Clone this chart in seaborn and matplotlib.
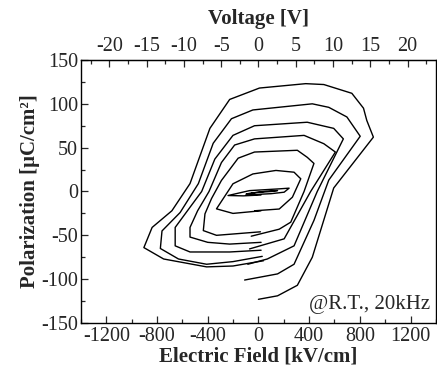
import numpy as np
import pandas as pd
import matplotlib
matplotlib.use("Agg")
import matplotlib.pyplot as plt
import seaborn as sns
from matplotlib.ticker import MultipleLocator

# P-E hysteresis loops (E in kV/cm, P in uC/cm^2), outermost to innermost
e_loop1 = [0, 151, 307, 425, 594, 907, 855, 829, 737, 516, 373, 8, -227, -383, -540, -683, -839, -904, -748, -409, -201, 40]
p_loop1 = [-123, -119, -107, -75, 4, 62, 81, 95, 112, 122, 123, 118, 105, 72, 9, -22, -41, -64, -77, -86, -85, -79]

e_loop2 = [-109, 151, 281, 438, 555, 803, 698, 555, 425, -44, -213, -357, -474, -618, -761, -774, -631, -409, -201, 30]
p_loop2 = [-101, -94, -83, -33, 13, 63, 85, 96, 100, 93, 83, 55, 9, -24, -45, -65, -77, -83, -80, -74]

e_loop3 = [-84, 70, 281, 464, 670, 594, 385, -31, -201, -344, -448, -540, -657, -657, -540, -227, 21]
p_loop3 = [-83, -77, -62, 0, 60, 72, 79, 75, 64, 37, 0, -18, -41, -62, -69, -69, -67]

e_loop4 = [-70, 203, 412, 607, 516, 360, -31, -188, -292, -390, -480, -540, -540, -400, -227, 21]
p_loop4 = [-65.5, -54, 0, 45, 54.5, 64, 60, 53, 33, 0, -22, -41, -52, -58, -60, -58]

e_loop5 = [-57, 164, 255, 360, 438, 385, 307, -31, -160, -292, -370, -422, -435, -331, 16]
p_loop5 = [-51, -43, -35, 0, 32, 39, 47, 45, 38, 12.6, -8, -25.5, -44.6, -50, -46]

e_loop6 = [-30, 164, 268, 334, 320, 281, 138, -44, -201, -331, -201, 20]
p_loop6 = [-22, -20, -6.5, 14.5, 16.4, 22, 24, 20, 8.8, -19.8, -25, -22]

e_loop7 = [-100, 100, 203, 242, 164, -70, -240, -120, 20]
p_loop7 = [-4, -2.5, -0.8, 3.8, 3, 1, -4.6, -5, -4]

e_loop8 = [-50, 100, 151, 60, -96, -30]
p_loop8 = [-1.5, 0, 1.1, 0.4, -2.7, -2]

loops_e = [e_loop1, e_loop2, e_loop3, e_loop4, e_loop5, e_loop6, e_loop7, e_loop8]
loops_p = [p_loop1, p_loop2, p_loop3, p_loop4, p_loop5, p_loop6, p_loop7, p_loop8]

x_ticks = [-1200, -800, -400, 0, 400, 800, 1200]
y_ticks = [-150, -100, -50, 0, 50, 100, 150]
v_ticks = [-20, -15, -10, -5, 0, 5, 10, 15, 20]

film_thickness_nm = 170  # converts kV/cm to V across the film

rows = []
for i, (es, ps) in enumerate(zip(loops_e, loops_p)):
    for k, (e, p) in enumerate(zip(es, ps)):
        rows.append({"loop": i, "order": k, "E": e, "P": p})
df = pd.DataFrame(rows)

sns.set_style("ticks")
plt.rcParams["font.family"] = ["Liberation Serif", "DejaVu Serif"]
plt.rcParams["axes.unicode_minus"] = False
plt.rcParams["xtick.direction"] = "in"
plt.rcParams["ytick.direction"] = "in"

fig = plt.figure(figsize=(4.37, 3.74), dpi=100)
ax = fig.add_axes([0.1854, 0.1364, 0.812, 0.7032])

sns.lineplot(data=df, x="E", y="P", units="loop", estimator=None, sort=False,
             color="black", linewidth=1.0, ax=ax, legend=False)

ax.set_xlim(-1400, 1400)
ax.set_ylim(-150, 150)
ax.set_xticks(x_ticks)
ax.set_yticks(y_ticks)
ax.xaxis.set_minor_locator(MultipleLocator(200))
ax.yaxis.set_minor_locator(MultipleLocator(25))
ax.tick_params(which="major", length=5, width=0.9, labelsize=14.5, pad=3)
ax.tick_params(which="minor", length=3, width=0.9)
ax.tick_params(axis="x", top=False)
ax.tick_params(axis="y", right=False, pad=2)
for s in ax.spines.values():
    s.set_linewidth(1.0)
    s.set_color("black")

ax.set_xlabel("Electric Field [kV/cm]", fontsize=15, fontweight="bold", labelpad=0)
ax.set_ylabel("Polarization [\u03bcC/cm\u00b2]", fontsize=15, fontweight="bold", labelpad=1)

k = film_thickness_nm * 1e-4
sec = ax.secondary_xaxis("top", functions=(lambda e: e * k, lambda v: v / k))
sec.set_xticks(v_ticks)
sec.xaxis.set_minor_locator(MultipleLocator(2.5))
sec.tick_params(which="major", direction="in", length=5, width=0.9, labelsize=14.5, pad=3)
sec.tick_params(which="minor", direction="in", length=3, width=0.9)
sec.set_xlabel("Voltage [V]", fontsize=15, fontweight="bold", labelpad=9)

ax.text(0.985, 0.035, "@R.T., 20kHz", transform=ax.transAxes, ha="right", va="bottom",
        fontsize=15)

fig.savefig("out.png", dpi=100)
